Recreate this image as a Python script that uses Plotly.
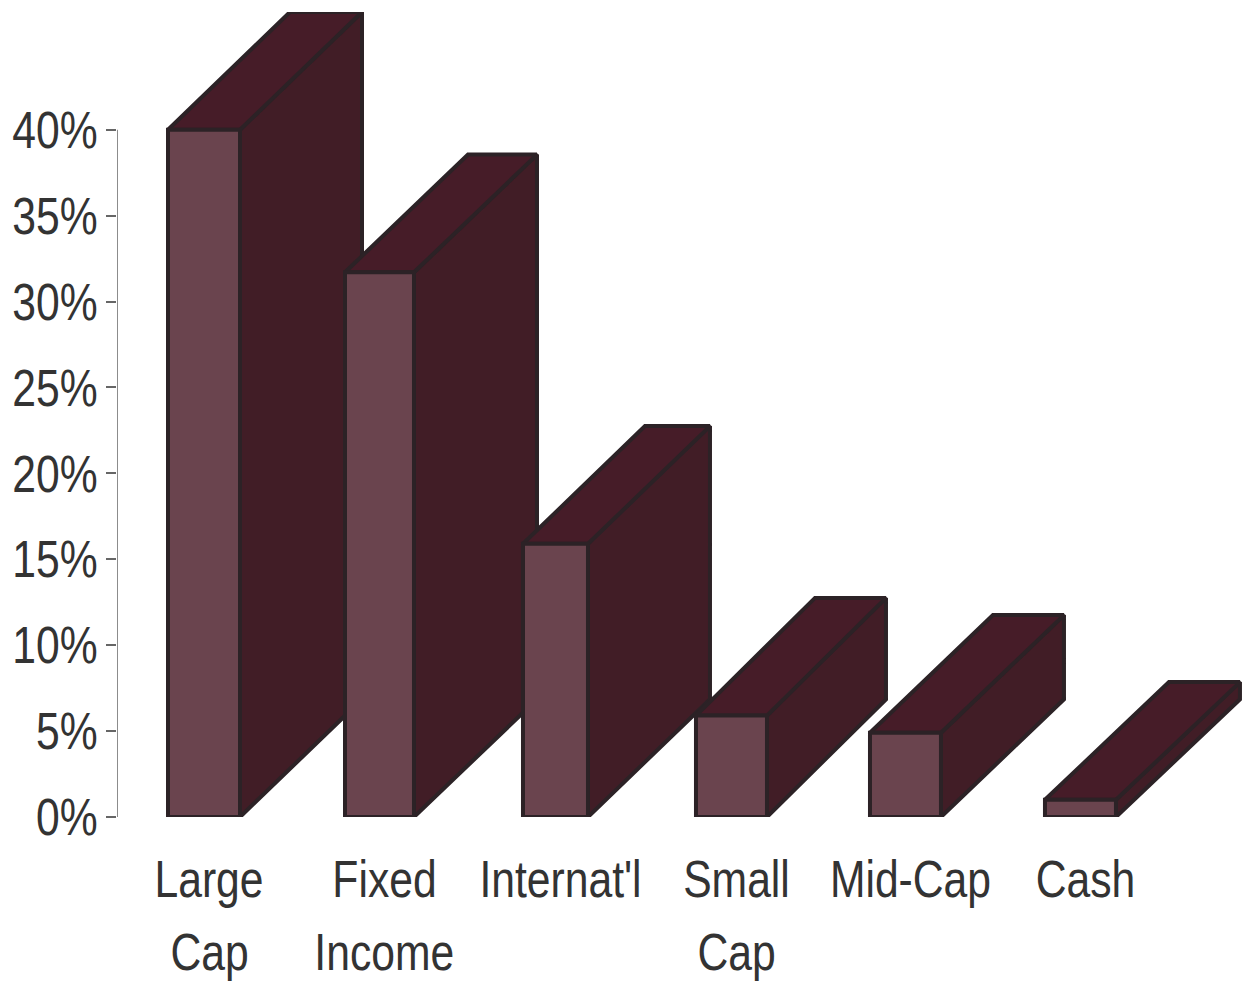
import plotly.graph_objects as go

categories_line1 = ["Large", "Fixed", "Internat'l", "Small", "Mid-Cap", "Cash"]
categories_line2 = ["Cap", "Income", "", "Cap", "", ""]
values = [40.0, 31.7, 15.9, 5.9, 4.9, 1.0]
y_ticks = [0, 5, 10, 15, 20, 25, 30, 35, 40]
y_tick_labels = ["0%", "5%", "10%", "15%", "20%", "25%", "30%", "35%", "40%"]

# Drawing geometry (axis units)
PX_PER_X = 175.2
bar_lefts = [(p - 204) / PX_PER_X for p in (168, 345, 523, 696, 870, 1045)]
bar_rights = [(p - 204) / PX_PER_X for p in (240, 414, 588, 767, 941, 1116)]
bar_depths = [d / PX_PER_X for d in (122, 123, 122, 119, 123, 124)]
DY = 6.85
FRONT, SIDE, TOP, EDGE = "#6a444e", "#411d26", "#461c28", "#2c2226"
TEXT = "#333333"
FONT = "Liberation Sans"

fig = go.Figure()


def face(xs, ys, color, width=4):
    fig.add_trace(go.Scatter(
        x=xs + xs[:1], y=ys + ys[:1], mode="lines", fill="toself", fillcolor=color,
        line=dict(color=EDGE, width=width), cliponaxis=False, hoverinfo="skip", showlegend=False,
    ))


for xl, xr, dx, v in zip(bar_lefts, bar_rights, bar_depths, values):
    face([xr, xr + dx, xr + dx, xr], [0, DY, v + DY, v], SIDE)
    face([xl, xr, xr + dx, xl + dx], [v, v, v + DY, v + DY], TOP)
    face([xl, xr, xr, xl], [0, 0, v, v], FRONT)

# y axis line, stopping at the top tick
fig.add_trace(go.Scatter(
    x=[-0.4966, -0.4966], y=[y_ticks[0], y_ticks[-1]], mode="lines",
    line=dict(color="#666666", width=1.5), cliponaxis=False, hoverinfo="skip", showlegend=False,
))

centers = [(a + b) / 2 for a, b in zip(bar_lefts, bar_rights)]
LABEL_NUDGE = 5 / PX_PER_X

for c, t in zip(centers, categories_line2):
    if t:
        fig.add_annotation(
            x=c + LABEL_NUDGE, y=0, xref="x", yref="y", text=t, showarrow=False,
            yanchor="top", yshift=-104, font=dict(family=FONT, size=52, color=TEXT),
        )

fig.update_layout(
    width=1245, height=981, margin=dict(l=117, r=0, t=12, b=164, autoexpand=False),
    paper_bgcolor="white", plot_bgcolor="white", showlegend=False,
    xaxis=dict(
        range=[-0.4966, 5.942], tickmode="array", automargin=False,
        tickvals=[c + LABEL_NUDGE for c in centers], ticktext=categories_line1,
        ticks="outside", ticklen=17, tickcolor="rgba(0,0,0,0)", showgrid=False, zeroline=False,
        showline=False, tickfont=dict(family=FONT, size=52, color=TEXT),
    ),
    yaxis=dict(
        range=[0, 46.85], tickmode="array", tickvals=y_ticks, ticktext=y_tick_labels,
        ticks="outside", ticklen=10, tickcolor="#666666", tickwidth=1.5, showgrid=False,
        automargin=False, ticklabelstandoff=-2,
        zeroline=False, showline=False, tickfont=dict(family=FONT, size=52, color=TEXT),
    ),
)

# Narrow the glyphs (Arial Narrow look): no condensed font is installed.
POST = """
document.body.style.margin='0';document.body.style.overflow='hidden';
var gd=document.getElementById('{plot_id}');
gd.querySelectorAll('.xtick text, .ytick text, .annotation-text').forEach(function(t){
  var w=t.getComputedTextLength();
  t.setAttribute('textLength', w*0.82);
  t.setAttribute('lengthAdjust','spacingAndGlyphs');
});
"""
fig.write_html("out.html", post_script=POST, config=dict(displayModeBar=False))
